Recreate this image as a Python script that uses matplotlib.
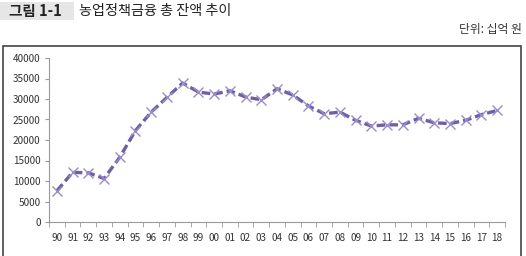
import matplotlib
matplotlib.use('Agg')
import matplotlib.pyplot as plt
from matplotlib.patches import Rectangle

plt.rcParams['font.family'] = ['Noto Sans CJK KR', 'DejaVu Sans']

years = ['90', '91', '92', '93', '94', '95', '96', '97', '98', '99',
         '00', '01', '02', '03', '04', '05', '06', '07', '08', '09',
         '10', '11', '12', '13', '14', '15', '16', '17', '18']
balance = [7600, 12100, 12000, 10600, 15800, 22300, 26800, 30400, 33900, 31700,
           31200, 32000, 30500, 29800, 32500, 31000, 28300, 26400, 26800, 24800,
           23400, 23700, 23700, 25300, 24200, 24000, 24800, 26200, 27200]
yticks = [0, 5000, 10000, 15000, 20000, 25000, 30000, 35000, 40000]

fig = plt.figure(figsize=(5.26, 2.56), dpi=100)

# header
fig.patches.append(Rectangle((0, 1 - 20 / 256), 74 / 526, 18 / 256,
                             transform=fig.transFigure, facecolor='#e6e6e6',
                             edgecolor='none'))
fig.text(9 / 526, 1 - 11 / 256, '그림 1-1', fontsize=10.5, fontweight='bold',
         color='#222222', va='center', ha='left')
fig.text(79 / 526, 1 - 11 / 256, '농업정책금융 총 잔액 추이', fontsize=10.2,
         color='#222222', va='center', ha='left')
fig.text(522 / 526, 1 - 30 / 256, '단위: 십억 원', fontsize=8.5,
         color='#333333', va='center', ha='right')

# chart frame
fig.patches.append(Rectangle((3 / 526, -0.05), 518 / 526, 1.05 - 46 / 256,
                             transform=fig.transFigure, facecolor='none',
                             edgecolor='#444444', linewidth=1.2))

ax = fig.add_axes([49 / 526, 1 - 222 / 256, 456 / 526, 164 / 256])
x = list(range(len(years)))
ax.plot(x, balance, color='#6f5fa8', linestyle=(0, (2.6, 1.2)), linewidth=2.4,
        marker='x', markersize=6.5, markeredgecolor='#9a8ec6',
        markeredgewidth=1.0, zorder=3)

ax.set_xlim(-0.5, len(years) - 0.5)
ax.set_ylim(0, 40000)
ax.set_yticks(yticks)
ax.set_yticklabels([str(v) for v in yticks])
ax.set_xticks(x)
ax.set_xticklabels(years)
ax.set_xticks([i - 0.5 for i in range(len(years) + 1)], minor=True)

for s in ['top', 'right']:
    ax.spines[s].set_visible(False)
for s in ['left', 'bottom']:
    ax.spines[s].set_color('#999999')
    ax.spines[s].set_linewidth(0.8)

ax.tick_params(axis='x', which='major', length=0, labelsize=7.2, colors='#333333', pad=8)
ax.tick_params(axis='x', which='minor', length=3.5, color='#999999', direction='out')
ax.tick_params(axis='y', length=3, color='#999999', labelsize=7.2, labelcolor='#333333', pad=3)

fig.savefig('out.png', dpi=100)
